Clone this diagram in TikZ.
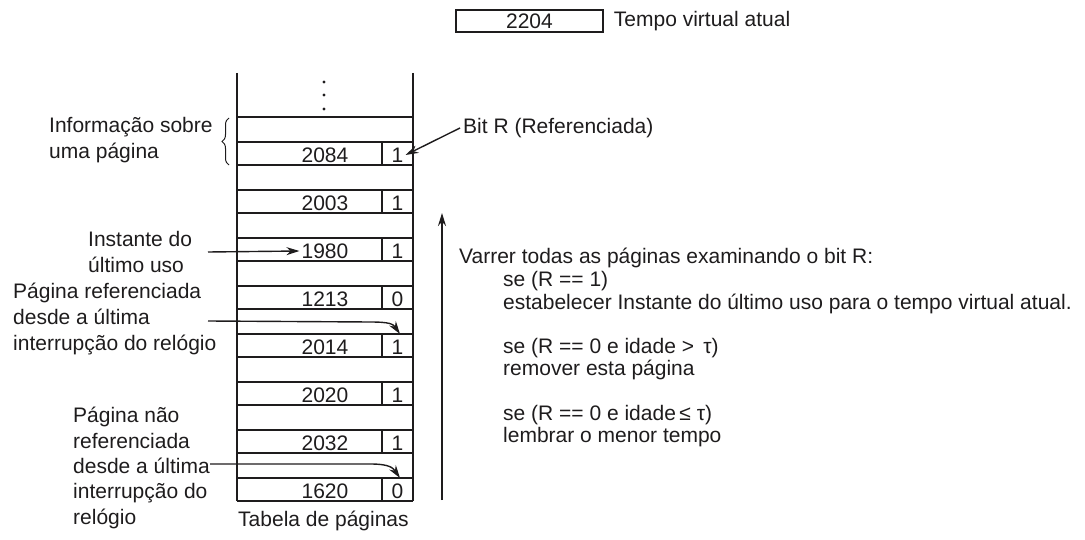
\documentclass[tikz,border=0pt]{standalone}
\usepackage{fontspec}
\setmainfont{Liberation Sans}
\usetikzlibrary{arrows.meta,calc,positioning,decorations.pathreplacing}
\definecolor{wsInk}{RGB}{30,28,29}
\tikzset{
  wsText/.style={font=\fontsize{21}{26}\selectfont, text=wsInk, inner sep=0pt, anchor=west, align=left},
  wsRules/.style={wsText, font=\fontsize{21}{22.3}\selectfont},
  wsCell/.style={font=\fontsize{21}{26}\selectfont, text=wsInk, inner sep=2pt},
  wsClock/.style={wsCell, draw=wsInk, line width=1.5pt, minimum width=147pt, minimum height=22pt},
  wsWall/.style={draw=wsInk, line width=1.4pt},
  wsThick/.style={draw=wsInk, line width=2.6pt},
  wsThin/.style={draw=wsInk, line width=1.2pt},
  wsArrow/.style={draw=wsInk, line width=1.4pt, -{Stealth[length=13pt,width=8pt]}},
}

\begin{document}
\begin{tikzpicture}[x=1pt,y=-1pt]
  \useasboundingbox (0,0) rectangle (1085,540);
  % current virtual time
  \node[wsClock] (vtime) at (529.5,21) {2204};
  \node[wsText, right=10pt of vtime] (vtimelabel) {Tempo virtual atual};

  % page table
  \draw[wsWall] (237,73) -- (237,501) (413,73) -- (413,501);
  \foreach \y in {82,95,109}{\fill[wsInk] (324,\y) circle (1.6pt);}
  \foreach \val/\rbit [count=\i from 0] in {2084/1,2003/1,1980/1,1213/0,2014/1,2020/1,2032/1,1620/0}{
    \pgfmathsetmacro{\rowtop}{117+48*\i}
    \draw[wsThick] (237,\rowtop) -- (413,\rowtop);
    \draw[wsThin] (237,\rowtop+25) -- (413,\rowtop+25);
    \draw[wsThin] (382,\rowtop+25) -- (382,\rowtop+48);
    \node[wsCell] (num\i) at (325,\rowtop+38) {\val};
    \node[wsCell] (bit\i) at (397.5,\rowtop+38) {\rbit};
    \coordinate (slot\i) at (400,\rowtop+25);
  }
  \draw[wsThin] (237,501) -- (413,501);
  \node[wsText] (tablename) at (238,521) {Tabela de páginas};

  % left labels
  \node[wsText] (pageinfo) at (49,140.5) {Informação sobre\\uma página};
  \draw[line width=1pt, wsInk, decorate, decoration={brace, amplitude=7pt}] (229,165) -- (229,118);
  \node[wsText] (lastuse) at (88,252) {Instante do\\último uso};
  \coordinate (lastuseout) at (208,252);
  \draw[wsArrow] (lastuseout) -- (num2.west);
  \node[wsText] (reflabel) at (13,319) {Página referenciada\\desde a última\\interrupção do relógio};
  \coordinate (refout) at (208,321);
  \draw[wsArrow] (refout) -- ($(slot4)+(-30,-12)$) .. controls +(20,0) and +(-7,-10) .. (slot4);
  \node[wsText, font=\fontsize{21}{25.3}\selectfont] (unreflabel) at (73,468) {Página não\\referenciada\\desde a última\\interrupção do\\relógio};
  \coordinate (unrefout) at (210,464);
  \draw[wsArrow] (unrefout) -- ($(slot7)+(-30,-14)$) .. controls +(20,0) and +(-7,-10) .. (slot7);

  % R bit
  \node[wsText] (bitlabel) at (463,128) {Bit R (Referenciada)};
  \draw[wsArrow] ([xshift=-3pt]bitlabel.west) -- (bit0.east);

  % scan
  \coordinate (scanfrom) at (442,500);
  \coordinate (scanto) at (442,213);
  \draw[wsArrow, line width=1.6pt] (scanfrom) -- (scanto);
  \node[wsText] (scanhead) at (459,258) {Varrer todas as páginas examinando o bit R:};
  \node[wsRules] (rule1) at (503,292.5) {se (R == 1)\\estabelecer Instante do último uso para o tempo virtual atual.};
  \node[wsRules] (rule2) at (503,359) {se (R == 0 e idade > \,τ)\\remover esta página};
  \node[wsRules] (rule3) at (503,426) {se (R == 0 e idade\,≤ τ)\\lembrar o menor tempo};
\end{tikzpicture}
\end{document}
